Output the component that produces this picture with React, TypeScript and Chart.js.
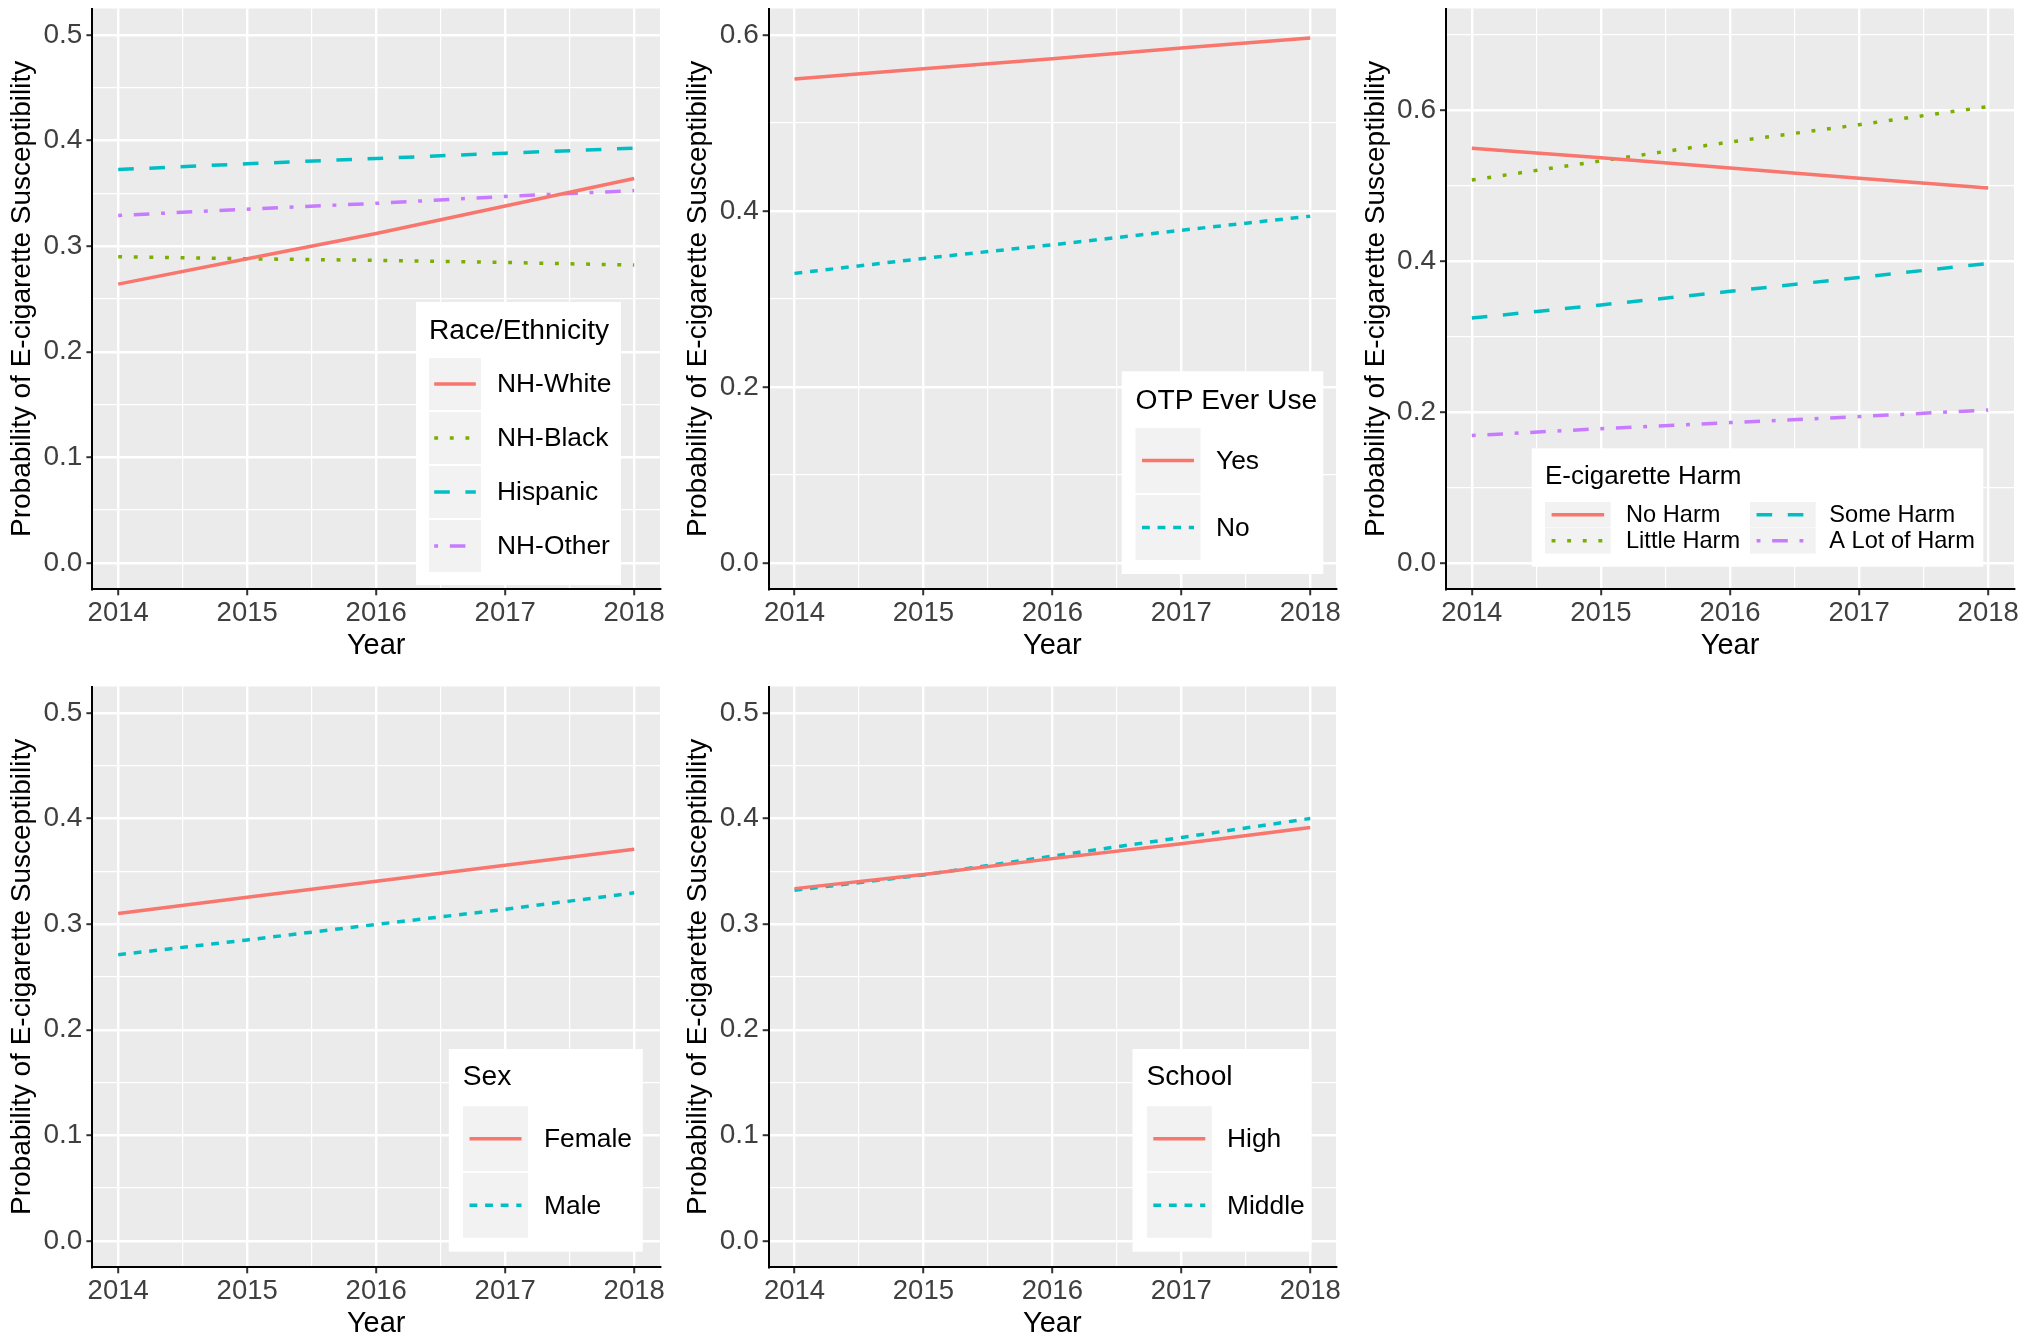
import React, { useEffect, useRef } from 'react';
import { Chart, registerables } from 'chart.js';

Chart.register(...registerables);

const FONT = '"Liberation Sans", Arial, Helvetica, sans-serif';
Chart.defaults.font.family = FONT;

// ---------------- data ----------------
const YEARS = [2014, 2015, 2016, 2017, 2018];
const X_MINOR = [2014.5, 2015.5, 2016.5, 2017.5];

const RACE_LABELS = ['NH-White', 'NH-Black', 'Hispanic', 'NH-Other'];
const RACE_NH_WHITE = [0.264, 0.288, 0.312, 0.338, 0.364];
const RACE_NH_BLACK = [0.29, 0.288, 0.2865, 0.2845, 0.282];
const RACE_HISPANIC = [0.3725, 0.378, 0.383, 0.388, 0.3927];
const RACE_NH_OTHER = [0.329, 0.335, 0.3405, 0.347, 0.3526];

const OTP_LABELS = ['Yes', 'No'];
const OTP_YES = [0.55, 0.5616, 0.573, 0.585, 0.5966];
const OTP_NO = [0.329, 0.346, 0.3615, 0.378, 0.394];

const HARM_LABELS = ['No Harm', 'Little Harm', 'Some Harm', 'A Lot of Harm'];
const HARM_NO = [0.5496, 0.537, 0.5235, 0.51, 0.4969];
const HARM_LITTLE = [0.5076, 0.533, 0.558, 0.581, 0.605];
const HARM_SOME = [0.3246, 0.342, 0.36, 0.3785, 0.397];
const HARM_ALOT = [0.1688, 0.178, 0.186, 0.194, 0.2028];

const SEX_LABELS = ['Female', 'Male'];
const SEX_FEMALE = [0.31, 0.3255, 0.3405, 0.3558, 0.3708];
const SEX_MALE = [0.271, 0.285, 0.2997, 0.314, 0.3296];

const SCHOOL_LABELS = ['High', 'Middle'];
const SCHOOL_HIGH = [0.3336, 0.347, 0.362, 0.376, 0.3914];
const SCHOOL_MIDDLE = [0.332, 0.3466, 0.3644, 0.382, 0.4];

const Y_MAJOR_05 = [0, 0.1, 0.2, 0.3, 0.4, 0.5];
const Y_MINOR_05 = [0.05, 0.15, 0.25, 0.35, 0.45];
const Y_MAJOR_06 = [0, 0.2, 0.4, 0.6];
const Y_MINOR_06 = [0.1, 0.3, 0.5];
const Y_MINOR_07 = [0.1, 0.3, 0.5, 0.7];

const X_TITLE = 'Year';
const Y_TITLE = 'Probability of E-cigarette Susceptibility';

// ---------------- style ----------------
const HUE2 = ['#F8766D', '#00BFC4'];
const HUE4 = ['#F8766D', '#7CAE00', '#00BFC4', '#C77CFF'];
const U = 3.9;
const SOLID: number[] = [];
const DOTTED = [U, 3 * U];
const DASHED = [4 * U, 4 * U];
const DOTDASH = [U, 3 * U, 4 * U, 3 * U];
const SHORTDASH = [2 * U, 2 * U];
const LINE_W = 3.5;
const TICK_SIZE = 27.5;
const TICK_COLOR = '#3F3F3F';

const CANVAS_W = 675;
const CANVAS_H = 670;
const PAD_TOP = 8.5;
const X_AXIS_H = 80.7;

type LegendCfg = {
  box: [number, number, number, number];
  title: string;
  titleX: number;
  titleY: number;
  titleSize: number;
  labelSize: number;
  keyW: number;
  keyH: number;
  cols: { keyX: number; labelX: number }[];
  rowsY: number[];
};

type Series = { label: string; data: number[]; color: string; dash: number[] };

type Panel = {
  left: number;
  top: number;
  yAxisW: number;
  padRight: number;
  yTitlePad: number;
  yMin: number;
  yMax: number;
  yMajor: number[];
  yMinor: number[];
  series: Series[];
  legend: LegendCfg;
};

const COLS = [
  { left: 0, yAxisW: 92.4, padRight: 15, yTitlePad: 8.2 },
  { left: 675, yAxisW: 93.7, padRight: 14, yTitlePad: 9.5 },
  { left: 1350, yAxisW: 96, padRight: 11, yTitlePad: 11.8 },
];
const ROWS = [0, 678];

const PANELS: Panel[] = [
  {
    ...COLS[0],
    top: ROWS[0],
    yMin: -0.025,
    yMax: 0.525,
    yMajor: Y_MAJOR_05,
    yMinor: Y_MINOR_05,
    series: [
      { label: RACE_LABELS[0], data: RACE_NH_WHITE, color: HUE4[0], dash: SOLID },
      { label: RACE_LABELS[1], data: RACE_NH_BLACK, color: HUE4[1], dash: DOTTED },
      { label: RACE_LABELS[2], data: RACE_HISPANIC, color: HUE4[2], dash: DASHED },
      { label: RACE_LABELS[3], data: RACE_NH_OTHER, color: HUE4[3], dash: DOTDASH },
    ],
    legend: {
      box: [416, 302, 205, 283],
      title: 'Race/Ethnicity',
      titleX: 429,
      titleY: 331,
      titleSize: 28.2,
      labelSize: 26.4,
      keyW: 52,
      keyH: 52,
      cols: [{ keyX: 429, labelX: 497 }],
      rowsY: [358, 412, 466, 520],
    },
  },
  {
    ...COLS[1],
    top: ROWS[0],
    yMin: -0.03,
    yMax: 0.63,
    yMajor: Y_MAJOR_06,
    yMinor: Y_MINOR_06,
    series: [
      { label: OTP_LABELS[0], data: OTP_YES, color: HUE2[0], dash: SOLID },
      { label: OTP_LABELS[1], data: OTP_NO, color: HUE2[1], dash: SHORTDASH },
    ],
    legend: {
      box: [446.7, 371.3, 201.6, 202.7],
      title: 'OTP Ever Use',
      titleX: 460.5,
      titleY: 401,
      titleSize: 28.2,
      labelSize: 26.4,
      keyW: 65,
      keyH: 65,
      cols: [{ keyX: 460.5, labelX: 541 }],
      rowsY: [428, 495],
    },
  },
  {
    ...COLS[2],
    top: ROWS[0],
    yMin: -0.035,
    yMax: 0.735,
    yMajor: Y_MAJOR_06,
    yMinor: Y_MINOR_07,
    series: [
      { label: HARM_LABELS[0], data: HARM_NO, color: HUE4[0], dash: SOLID },
      { label: HARM_LABELS[1], data: HARM_LITTLE, color: HUE4[1], dash: DOTTED },
      { label: HARM_LABELS[2], data: HARM_SOME, color: HUE4[2], dash: DASHED },
      { label: HARM_LABELS[3], data: HARM_ALOT, color: HUE4[3], dash: DOTDASH },
    ],
    legend: {
      box: [181.7, 448.3, 451.6, 118.4],
      title: 'E-cigarette Harm',
      titleX: 195,
      titleY: 477,
      titleSize: 26,
      labelSize: 23.6,
      keyW: 65.7,
      keyH: 25.5,
      cols: [
        { keyX: 195, labelX: 276 },
        { keyX: 400, labelX: 479.3 },
      ],
      rowsY: [502, 528],
    },
  },
  {
    ...COLS[0],
    top: ROWS[1],
    yMin: -0.025,
    yMax: 0.525,
    yMajor: Y_MAJOR_05,
    yMinor: Y_MINOR_05,
    series: [
      { label: SEX_LABELS[0], data: SEX_FEMALE, color: HUE2[0], dash: SOLID },
      { label: SEX_LABELS[1], data: SEX_MALE, color: HUE2[1], dash: SHORTDASH },
    ],
    legend: {
      box: [448.8, 371, 194, 202.7],
      title: 'Sex',
      titleX: 462.7,
      titleY: 399.5,
      titleSize: 28.2,
      labelSize: 26.4,
      keyW: 65,
      keyH: 65,
      cols: [{ keyX: 463, labelX: 544 }],
      rowsY: [428.2, 494.8],
    },
  },
  {
    ...COLS[1],
    top: ROWS[1],
    yMin: -0.025,
    yMax: 0.525,
    yMajor: Y_MAJOR_05,
    yMinor: Y_MINOR_05,
    series: [
      { label: SCHOOL_LABELS[0], data: SCHOOL_HIGH, color: HUE2[0], dash: SOLID },
      { label: SCHOOL_LABELS[1], data: SCHOOL_MIDDLE, color: HUE2[1], dash: SHORTDASH },
    ],
    legend: {
      box: [457.5, 371, 179, 202.7],
      title: 'School',
      titleX: 471.4,
      titleY: 399.5,
      titleSize: 28.2,
      labelSize: 26.4,
      keyW: 65,
      keyH: 65,
      cols: [{ keyX: 471.8, labelX: 552 }],
      rowsY: [428.2, 494.8],
    },
  },
];

const near = (arr: number[], v: number) => arr.some((a) => Math.abs(a - v) < 1e-6);

const bgPlugin = {
  id: 'ggBackground',
  beforeDraw(chart: any) {
    const { ctx, chartArea: a } = chart;
    ctx.save();
    ctx.fillStyle = '#EBEBEB';
    ctx.fillRect(a.left, a.top, a.right - a.left, a.bottom - a.top);
    ctx.restore();
  },
};

function makeLegendPlugin(cfg: LegendCfg) {
  return {
    id: 'ggLegend',
    afterDraw(chart: any) {
      const ctx = chart.ctx as CanvasRenderingContext2D;
      const [bx, by, bw, bh] = cfg.box;
      ctx.save();
      ctx.fillStyle = '#FFFFFF';
      ctx.fillRect(bx, by, bw, bh);
      ctx.fillStyle = '#000000';
      ctx.textBaseline = 'middle';
      ctx.textAlign = 'left';
      ctx.font = `${cfg.titleSize}px ${FONT}`;
      ctx.fillText(cfg.title, cfg.titleX, cfg.titleY);
      const nrow = cfg.rowsY.length;
      chart.data.datasets.forEach((ds: any, i: number) => {
        const col = cfg.cols[Math.floor(i / nrow)];
        const ky = cfg.rowsY[i % nrow];
        ctx.fillStyle = '#F2F2F2';
        ctx.fillRect(col.keyX, ky, cfg.keyW, cfg.keyH);
        const cy = ky + cfg.keyH / 2;
        ctx.beginPath();
        ctx.setLineDash(ds.borderDash || []);
        ctx.lineDashOffset = 0;
        ctx.lineWidth = ds.borderWidth;
        ctx.strokeStyle = ds.borderColor;
        ctx.lineCap = 'butt';
        ctx.moveTo(col.keyX + 0.1 * cfg.keyW, cy);
        ctx.lineTo(col.keyX + 0.9 * cfg.keyW, cy);
        ctx.stroke();
        ctx.setLineDash([]);
        ctx.fillStyle = '#000000';
        ctx.font = `${cfg.labelSize}px ${FONT}`;
        ctx.fillText(ds.label, col.labelX, cy + 1);
      });
      ctx.restore();
    },
  };
}

function PanelChart({ p }: { p: Panel }) {
  const ref = useRef<HTMLCanvasElement>(null);
  useEffect(() => {
    const canvas = ref.current;
    if (!canvas) return;
    const chart = new Chart(canvas, {
      type: 'line',
      data: {
        datasets: p.series.map((s) => ({
          label: s.label,
          data: YEARS.map((x, i) => ({ x, y: s.data[i] })),
          borderColor: s.color,
          backgroundColor: s.color,
          borderWidth: LINE_W,
          borderDash: s.dash,
          borderCapStyle: 'butt',
          pointRadius: 0,
          tension: 0,
          fill: false,
        })),
      },
      options: {
        animation: false,
        responsive: false,
        devicePixelRatio: 1,
        events: [],
        layout: { padding: { top: PAD_TOP, right: p.padRight, bottom: 0, left: 0 } },
        plugins: { legend: { display: false }, tooltip: { enabled: false } },
        scales: {
          x: {
            type: 'linear',
            min: 2013.8,
            max: 2018.2,
            afterBuildTicks: (scale: any) => {
              scale.ticks = [...YEARS, ...X_MINOR].sort((a, b) => a - b).map((v) => ({ value: v }));
            },
            afterFit: (scale: any) => {
              scale.height = X_AXIS_H;
              scale.paddingLeft = 0;
              scale.paddingRight = 0;
            },
            ticks: {
              autoSkip: false,
              maxRotation: 0,
              minRotation: 0,
              padding: 4,
              color: TICK_COLOR,
              font: { size: TICK_SIZE, lineHeight: 1 },
              callback: (v: any) => (near(YEARS, Number(v)) ? String(Math.round(Number(v))) : ''),
            },
            grid: {
              color: '#FFFFFF',
              lineWidth: (c: any) => (c.tick && near(YEARS, c.tick.value) ? 2.4 : 1.2),
              drawTicks: true,
              tickLength: 6,
              tickWidth: 2,
              tickColor: (c: any) => (c.tick && near(YEARS, c.tick.value) ? '#333333' : 'rgba(0,0,0,0)'),
            },
            border: { display: true, color: '#000000', width: 2 },
            title: {
              display: true,
              text: X_TITLE,
              color: '#000000',
              font: { size: 29, lineHeight: 1 },
              padding: { top: 0, bottom: 10 },
            },
          },
          y: {
            type: 'linear',
            min: p.yMin,
            max: p.yMax,
            afterBuildTicks: (scale: any) => {
              scale.ticks = [...p.yMajor, ...p.yMinor].sort((a, b) => a - b).map((v) => ({ value: v }));
            },
            afterFit: (scale: any) => {
              scale.width = p.yAxisW;
              scale.paddingTop = 0;
              scale.paddingBottom = 0;
            },
            ticks: {
              autoSkip: false,
              padding: 4,
              color: TICK_COLOR,
              font: { size: 28, lineHeight: 1 },
              callback: (v: any) => (near(p.yMajor, Number(v)) ? Number(v).toFixed(1) : ''),
            },
            grid: {
              color: '#FFFFFF',
              lineWidth: (c: any) => (c.tick && near(p.yMajor, c.tick.value) ? 2.4 : 1.2),
              drawTicks: true,
              tickLength: 6,
              tickWidth: 2,
              tickColor: (c: any) => (c.tick && near(p.yMajor, c.tick.value) ? '#333333' : 'rgba(0,0,0,0)'),
            },
            border: { display: true, color: '#000000', width: 2 },
            title: {
              display: true,
              text: Y_TITLE,
              color: '#000000',
              font: { size: 28, lineHeight: 1 },
              padding: { top: p.yTitlePad, bottom: 0 },
            },
          },
        },
      } as any,
      plugins: [bgPlugin, makeLegendPlugin(p.legend)],
    });
    return () => chart.destroy();
  }, [p]);
  return (
    <canvas
      ref={ref}
      width={CANVAS_W}
      height={CANVAS_H}
      style={{ position: 'absolute', left: p.left, top: p.top, width: CANVAS_W, height: CANVAS_H }}
    />
  );
}

export default function App() {
  return (
    <div
      style={{
        position: 'absolute',
        left: 0,
        top: 0,
        width: 2025,
        height: 1338,
        overflow: 'hidden',
        background: '#FFFFFF',
      }}
    >
      {PANELS.map((p, i) => (
        <PanelChart key={i} p={p} />
      ))}
    </div>
  );
}
